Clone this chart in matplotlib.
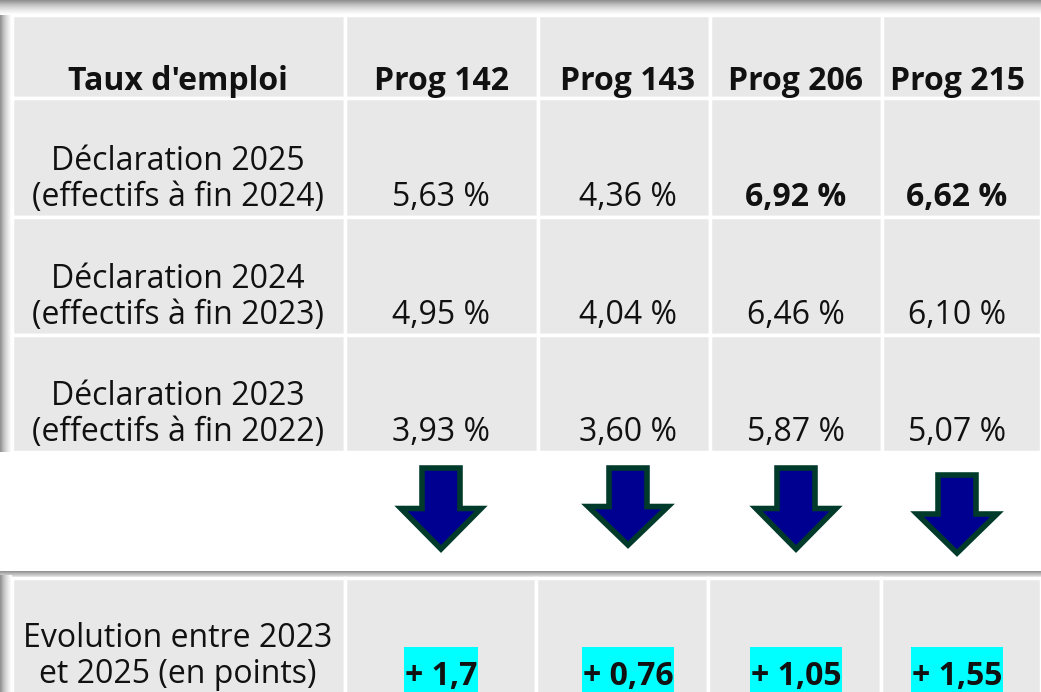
import matplotlib

matplotlib.use("Agg")
import matplotlib.pyplot as plt
import numpy as np
from matplotlib.patches import Rectangle, Polygon

plt.rcParams["font.family"] = ["Open Sans", "DejaVu Sans"]

# table content
header_label = "Taux d'emploi"
programmes = ["Prog 142", "Prog 143", "Prog 206", "Prog 215"]
row_labels = [
    "Déclaration 2025\n(effectifs à fin 2024)",
    "Déclaration 2024\n(effectifs à fin 2023)",
    "Déclaration 2023\n(effectifs à fin 2022)",
]
rates = [
    ["5,63 %", "4,36 %", "6,92 %", "6,62 %"],
    ["4,95 %", "4,04 %", "6,46 %", "6,10 %"],
    ["3,93 %", "3,60 %", "5,87 %", "5,07 %"],
]
rate_bold = [
    [False, False, True, True],
    [False, False, False, False],
    [False, False, False, False],
]
evolution_label = "Evolution entre 2023\net 2025 (en points)"
evolution = ["+ 1,7", "+ 0,76", "+ 1,05", "+ 1,55"]

W, H = 1041, 692
CELL = "#e7e8e7"
GRID = "white"
CYAN = "#00ffff"
ARROW_FILL = "#000090"
ARROW_EDGE = "#003a2a"
FS = 23

col_edges = [12, 345, 538, 710, 882, 1041]
row_edges = [15, 98, 217, 335, 452]
bot_top, bot_bottom = 575, 692
bot_edges = [12, 345, 536, 708, 881, 1041]

fig = plt.figure(figsize=(W / 100, H / 100), dpi=100)
ax = fig.add_axes([0, 0, 1, 1])
ax.set_xlim(0, W)
ax.set_ylim(H, 0)
ax.axis("off")


def shadow(x0, x1, y0, y1, vertical, flip=False):
    # soft grey gradient imitating the drop shadow of the screenshot
    g = np.linspace(0.0, 1.0, 32)
    if flip:
        g = g[::-1]
    if vertical:
        img = np.tile(g[:, None], (1, 2))
    else:
        img = np.tile(g[None, :], (2, 1))
    ax.imshow(img, cmap="Greys_r", vmin=-0.9, vmax=1.0, extent=(x0, x1, y1, y0),
              aspect="auto", interpolation="bilinear", zorder=0)


# upper table shadow
shadow(0, W, 0, 15, vertical=True)
shadow(0, 12, 15, row_edges[-1], vertical=False)

# upper table cells
for r in range(len(row_edges) - 1):
    for c in range(len(col_edges) - 1):
        x0, x1 = col_edges[c], col_edges[c + 1]
        y0, y1 = row_edges[r], row_edges[r + 1]
        ax.add_patch(Rectangle((x0, y0), x1 - x0, y1 - y0, facecolor=CELL,
                               edgecolor=GRID, linewidth=2.5, zorder=1))

centers = [178, 441, 628, 796, 957]

# header
ax.text(centers[0], row_edges[1] - 8, header_label, ha="center", va="baseline",
        fontsize=FS, fontweight="bold", color="#111111", zorder=3)
for i, p in enumerate(programmes):
    ax.text(centers[i + 1], row_edges[1] - 8, p, ha="center", va="baseline",
            fontsize=FS, fontweight="bold", color="#111111", zorder=3)

# data rows
for r, lab in enumerate(row_labels):
    yb = row_edges[r + 2] - 11
    ax.text(centers[0], yb, lab, ha="center", va="baseline", fontsize=FS,
            linespacing=1.12, color="#111111", zorder=3)
    for c, val in enumerate(rates[r]):
        ax.text(centers[c + 1], yb, val, ha="center", va="baseline", fontsize=FS,
                fontweight="bold" if rate_bold[r][c] else "normal",
                color="#111111", zorder=3)

# arrows
arrow_tops = [468, 468, 468, 475]
arrow_tips = [549, 545, 549, 553]
for cx, top, tip in zip(centers[1:], arrow_tops, arrow_tips):
    head = top + 0.5 * (tip - top)
    hw, sw = 40, 19
    pts = [(cx - sw, top), (cx + sw, top), (cx + sw, head), (cx + hw, head),
           (cx, tip), (cx - hw, head), (cx - sw, head)]
    ax.add_patch(Polygon(pts, closed=True, facecolor=ARROW_FILL,
                         edgecolor=ARROW_EDGE, linewidth=4, joinstyle="miter",
                         zorder=3))

# bottom row with shadow
shadow(0, W, bot_top - 4, bot_top + 6, vertical=True)
shadow(0, 12, bot_top, bot_bottom, vertical=False)
for c in range(len(bot_edges) - 1):
    x0, x1 = bot_edges[c], bot_edges[c + 1]
    ax.add_patch(Rectangle((x0, bot_top + 3), x1 - x0, bot_bottom - bot_top,
                           facecolor=CELL, edgecolor=GRID, linewidth=2.5, zorder=1))

ax.text(centers[0], bot_bottom - 9, evolution_label, ha="center", va="baseline",
        fontsize=FS, linespacing=1.12, color="#111111", zorder=3)
evo_texts = []
for c, val in enumerate(evolution):
    t = ax.text(centers[c + 1], bot_bottom - 7, val, ha="center", va="baseline",
                fontsize=FS, fontweight="bold", color="#111111", zorder=4)
    evo_texts.append(t)

# cyan highlight behind the evolution figures, sized on the text
fig.canvas.draw()
renderer = fig.canvas.get_renderer()
inv = ax.transData.inverted()
for t in evo_texts:
    bb = t.get_window_extent(renderer)
    (x0, _), (x1, _) = inv.transform([(bb.x0, bb.y0), (bb.x1, bb.y1)])
    ax.add_patch(Rectangle((x0 - 1, 647), x1 - x0 + 2, H - 647 + 2,
                           facecolor=CYAN, edgecolor="none", zorder=2))

# darker band at the very bottom of the screenshot
shadow(12, W, bot_bottom - 6, bot_bottom, vertical=True, flip=True)

fig.savefig("out.png", dpi=100)
